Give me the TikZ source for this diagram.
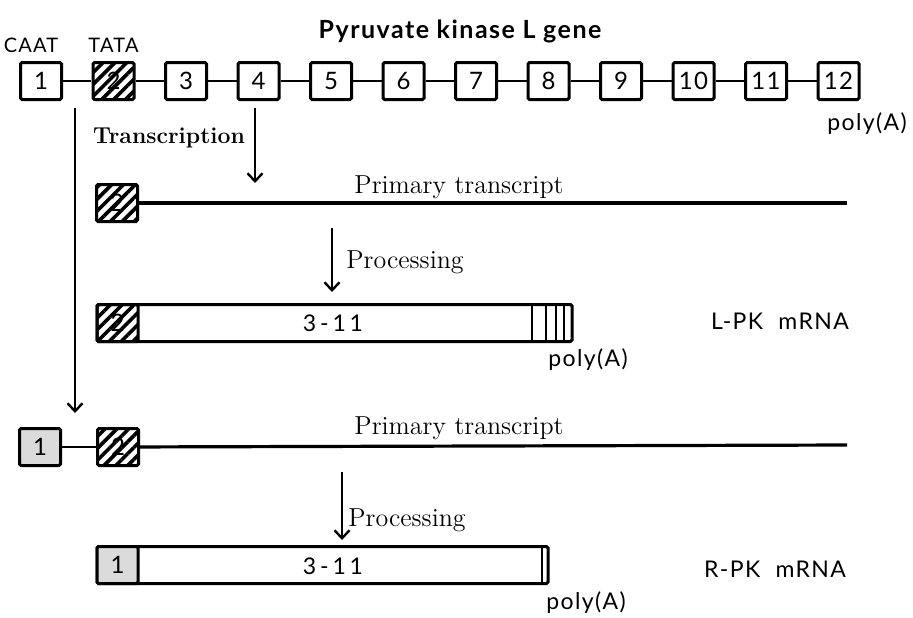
\documentclass[tikz,border=0pt]{standalone}
\usepackage{fontspec}
\newfontfamily\lblfont[LetterSpace=6]{Lato}
\usetikzlibrary{arrows.meta,positioning,patterns.meta}
\tikzset{
  exon/.style={draw,line width=1.5pt,rounded corners=0.8pt,minimum width=20.5pt,minimum height=18.5pt,inner sep=0pt,font=\lblfont\fontsize{12}{12}\selectfont,fill=white},
  hatched/.style={exon,pattern={Lines[angle=45,distance=4.2pt,line width=1.8pt]}},
  stipple/.style={exon,fill=black!14},
  bar/.style={draw,line width=1.5pt,rounded corners=0.8pt,minimum height=18.5pt,inner sep=0pt},
  link/.style={line width=1.3pt},
  rna/.style={line width=1.6pt},
  flow/.style={-{Straight Barb[length=4pt,width=7.5pt,line width=1.2pt]},line width=0.9pt},
  serlbl/.style={font=\fontsize{13}{13}\selectfont,inner sep=0pt},
  sanlbl/.style={font=\lblfont\fontsize{11.5}{11.5}\selectfont,inner sep=0pt},
}
\begin{document}
\begin{tikzpicture}[x=0.5pt,y=-0.5pt]
\useasboundingbox (0,0) rectangle (913,617);
% gene
\node[font=\lblfont\bfseries\fontsize{12.5}{12.5}\selectfont] (title) at (460,31) {Pyruvate kinase L gene};
\foreach \i/\s in {1/exon,2/hatched,3/exon,4/exon,5/exon,6/exon,7/exon,8/exon,9/exon,10/exon,11/exon,12/exon}
  \node[\s] (e\i) at ({41+72.5*(\i-1)},81) {\i};
\foreach \i [count=\j from 2] in {1,...,11}
  \draw[link] (e\i) -- (e\j);
\node[sanlbl,font=\lblfont\fontsize{10}{10}\selectfont,above=4pt of e1,xshift=-5pt] (caat) {CAAT};
\node[sanlbl,font=\lblfont\fontsize{10}{10}\selectfont,above=4pt of e2] (tata) {TATA};
\node[sanlbl] (polya1) at (867,124) {poly(A)};
% transcription
\coordinate (tr1) at (255,108);
\coordinate (tr2) at (255,183);
\draw[flow] (tr1) -- (tr2);
\node[serlbl,font=\bfseries\fontsize{11.5}{11.5}\selectfont] (trlbl) at (169,138) {Transcription};
\coordinate (lt1) at (75,108);
\coordinate (lt2) at (75,413);
\draw[flow] (lt1) -- (lt2);
% L-PK primary transcript
\node[hatched] (p1) at (117,203) {2};
\coordinate (p1end) at (847,203);
\draw[rna] (p1) -- (p1end);
\node[serlbl] (p1lbl) at (459,187) {Primary transcript};
\coordinate (pr1a) at (332,228);
\coordinate (pr1b) at (332,292);
\draw[flow] (pr1a) -- (pr1b);
\node[serlbl,anchor=west] (pr1lbl) at (346,262) {Processing};
% L-PK mRNA
\node[bar,minimum width=237.5pt] (lpk) at (334.5,323) {};
\node[hatched,anchor=west] (lx) at (lpk.west) {2};
\foreach \x in {532,546,556,564}
  \draw[line width=1pt] (\x,304) -- (\x,342);
\node[sanlbl] (lpkmid) at (333,323) {3\,-\,1\,1};
\node[sanlbl] (lpklbl) at (780,321) {L-PK\hspace{4pt} mRNA};
\node[sanlbl] (polya2) at (588,360) {poly(A)};
% R-PK primary transcript
\node[stipple] (q0) at (40,447) {1};
\node[hatched] (q1) at (118,447) {2};
\coordinate (q1end) at (847,445);
\draw[link] (q0) -- (q1);
\draw[rna] (q1) -- (q1end);
\node[serlbl] (q1lbl) at (459,428) {Primary transcript};
\coordinate (pr2a) at (342,472);
\coordinate (pr2b) at (342,540);
\draw[flow] (pr2a) -- (pr2b);
\node[serlbl,anchor=west] (pr2lbl) at (348,520) {Processing};
% R-PK mRNA
\node[bar,minimum width=225.5pt] (rpk) at (322.5,565) {};
\node[stipple,anchor=west] (rx) at (rpk.west) {1};
\draw[line width=1pt] (542,547) -- (542,583);
\node[sanlbl] (rpkmid) at (333,566) {3\,-\,1\,1};
\node[sanlbl] (rpklbl) at (775,569) {R-PK\hspace{4pt} mRNA};
\node[sanlbl] (polya3) at (586,603) {poly(A)};
\end{tikzpicture}
\end{document}
